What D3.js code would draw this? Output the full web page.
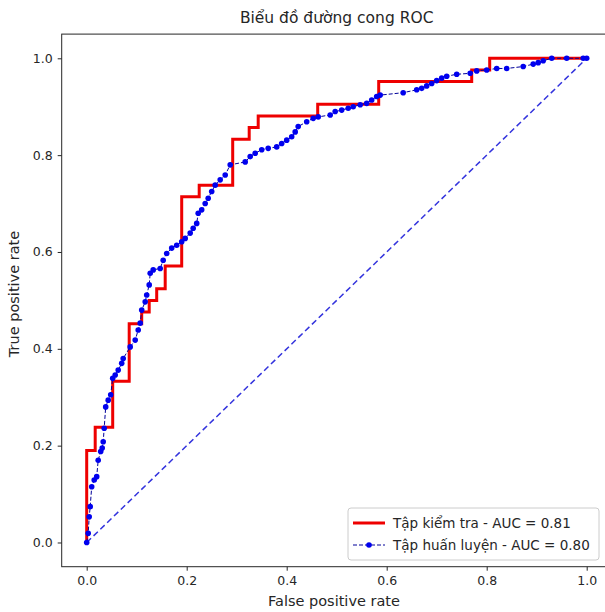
<!DOCTYPE html>
<html>
<head>
<meta charset="utf-8">
<script src="https://d3js.org/d3.v7.min.js"></script>
<style>
	body {
		margin: 0;
		overflow: hidden;
		background: #fff;
		font-family: "DejaVu Sans", sans-serif;
	}
	svg {
		display: block;
	}
	.tick text {
		font-size: 12.5px;
		fill: #262626;
	}
	.axis-label {
		font-size: 14.5px;
		text-anchor: middle;
		fill: #262626;
	}
	.title {
		font-size: 15.5px;
		text-anchor: middle;
		fill: #262626;
	}
	.legend-text {
		font-size: 13.5px;
		fill: #262626;
	}
</style>
</head>
<body>
<script>

// test set ROC (step corners)
var testFpr = [0, 0, 0.017, 0.017, 0.052, 0.052, 0.085, 0.085, 0.11, 0.11, 0.125, 0.125, 0.14, 0.14,
	0.157, 0.157, 0.19, 0.19, 0.225, 0.225, 0.292, 0.292, 0.325, 0.325, 0.343, 0.343,
	0.462, 0.462, 0.584, 0.584, 0.77, 0.77, 0.806, 0.806, 1];
var testTpr = [0, 0.190, 0.190, 0.238, 0.238, 0.333, 0.333, 0.452, 0.452, 0.476, 0.476, 0.500, 0.500, 0.524,
	0.524, 0.571, 0.571, 0.714, 0.714, 0.738, 0.738, 0.833, 0.833, 0.857, 0.857, 0.881,
	0.881, 0.905, 0.905, 0.952, 0.952, 0.976, 0.976, 1, 1];

// training set ROC
var trainFpr = [0, 0.003, 0.005, 0.007, 0.01, 0.015, 0.02, 0.023, 0.028, 0.031, 0.033, 0.035, 0.038, 0.043,
	0.048, 0.052, 0.057, 0.063, 0.07, 0.073, 0.087, 0.097, 0.103, 0.107, 0.11, 0.117, 0.12, 0.125,
	0.127, 0.133, 0.147, 0.153, 0.16, 0.17, 0.18, 0.19, 0.197, 0.207, 0.213, 0.22, 0.223, 0.23,
	0.237, 0.243, 0.25, 0.257, 0.267, 0.277, 0.287, 0.317, 0.327, 0.337, 0.35, 0.363, 0.38, 0.39,
	0.40, 0.41, 0.417, 0.423, 0.44, 0.453, 0.463, 0.487, 0.497, 0.51, 0.523, 0.533, 0.547, 0.56,
	0.57, 0.58, 0.587, 0.633, 0.66, 0.67, 0.68, 0.69, 0.70, 0.71, 0.72, 0.74, 0.767, 0.78, 0.80,
	0.82, 0.84, 0.873, 0.893, 0.903, 0.913, 0.93, 0.96, 0.993, 1];
var trainTpr = [0, 0.019, 0.053, 0.074, 0.115, 0.129, 0.136, 0.170, 0.188, 0.195, 0.208, 0.236, 0.280, 0.294,
	0.305, 0.339, 0.346, 0.356, 0.370, 0.380, 0.404, 0.418, 0.439, 0.453, 0.480, 0.497, 0.511, 0.532,
	0.556, 0.563, 0.566, 0.583, 0.597, 0.608, 0.614, 0.621, 0.628, 0.639, 0.649, 0.659, 0.680, 0.687,
	0.700, 0.711, 0.725, 0.738, 0.749, 0.759, 0.780, 0.786, 0.797, 0.804, 0.811, 0.814, 0.817, 0.824,
	0.831, 0.838, 0.848, 0.859, 0.869, 0.876, 0.879, 0.883, 0.890, 0.893, 0.897, 0.900, 0.904, 0.907,
	0.914, 0.921, 0.924, 0.929, 0.935, 0.938, 0.943, 0.948, 0.954, 0.959, 0.963, 0.967, 0.969, 0.974, 0.976,
	0.979, 0.979, 0.983, 0.988, 0.991, 0.995, 1.0, 1.0, 1.0, 1];

var chanceFpr = [0, 1];
var chanceTpr = [0, 1];

var xTicks = [0, 0.2, 0.4, 0.6, 0.8, 1.0];
var yTicks = [0, 0.2, 0.4, 0.6, 0.8, 1.0];

var legendLabels = ["Tập kiểm tra - AUC = 0.81", "Tập huấn luyện - AUC = 0.80"];

var W = 605, H = 612;
var margin = {top: 34.1, left: 61.7},
	width = 550,
	height = 532.6;

var svg = d3.select("body").append("svg")
	.attr("width", W).attr("height", H);

var g = svg.append("g")
	.attr("transform", "translate(" + margin.left + "," + margin.top + ")");

var x = d3.scaleLinear().domain([-0.05, 1.05]).range([0, width]);
var y = d3.scaleLinear().domain([-0.05, 1.05]).range([height, 0]);

var line = d3.line()
	.x(function(d) { return x(d[0]); })
	.y(function(d) { return y(d[1]); });

function zip(a, b) { return a.map(function(v, i) { return [v, b[i]]; }); }

var testPts = zip(testFpr, testTpr),
	trainPts = zip(trainFpr, trainTpr),
	chancePts = zip(chanceFpr, chanceTpr);

// axes
var xAxis = g.append("g")
	.attr("transform", "translate(0," + height + ")")
	.call(d3.axisBottom(x).tickValues(xTicks).tickFormat(d3.format(".1f")).tickSizeOuter(0).tickSize(4).tickPadding(5));
var yAxis = g.append("g")
	.call(d3.axisLeft(y).tickValues(yTicks).tickFormat(d3.format(".1f")).tickSizeOuter(0).tickSize(4).tickPadding(5));
[xAxis, yAxis].forEach(function(a) {
	a.select(".domain").remove();
	a.selectAll(".tick line").attr("stroke", "#262626");
	a.selectAll(".tick text").attr("font-family", "DejaVu Sans");
});

// frame
g.append("rect")
	.attr("width", width).attr("height", height)
	.attr("fill", "none").attr("stroke", "#262626").attr("stroke-width", 1);

var plot = g.append("g");

plot.append("path").datum(testPts)
	.attr("d", line)
	.attr("fill", "none")
	.attr("stroke", "#ee0000")
	.attr("stroke-width", 3);

plot.append("path").datum(chancePts)
	.attr("d", line)
	.attr("fill", "none")
	.attr("stroke", "#3333dd")
	.attr("stroke-width", 1.5)
	.attr("stroke-dasharray", "6,3.5");

plot.append("path").datum(trainPts)
	.attr("d", line)
	.attr("fill", "none")
	.attr("stroke", "#00009a")
	.attr("stroke-width", 1)
	.attr("stroke-dasharray", "4,2");

plot.selectAll(".dot").data(trainPts)
	.enter().append("circle")
	.attr("class", "dot")
	.attr("cx", function(d) { return x(d[0]); })
	.attr("cy", function(d) { return y(d[1]); })
	.attr("r", 2.8)
	.attr("fill", "#0000ee");

// title and labels
svg.append("text").attr("class", "title")
	.attr("x", margin.left + width / 2).attr("y", 23)
	.text("Biểu đồ đường cong ROC");

svg.append("text").attr("class", "axis-label")
	.attr("x", 334).attr("y", 606)
	.text("False positive rate");

svg.append("text").attr("class", "axis-label")
	.attr("transform", "translate(19," + 294 + ") rotate(-90)")
	.text("True positive rate");

// legend
var lg = svg.append("g").attr("transform", "translate(348,508)");
lg.append("rect")
	.attr("width", 251).attr("height", 52).attr("rx", 3)
	.attr("fill", "#fff").attr("fill-opacity", 0.85)
	.attr("stroke", "#cccccc").attr("stroke-width", 1);

lg.append("line")
	.attr("x1", 5).attr("x2", 37).attr("y1", 15).attr("y2", 15)
	.attr("stroke", "#ee0000").attr("stroke-width", 3);
lg.append("line")
	.attr("x1", 5).attr("x2", 37).attr("y1", 37).attr("y2", 37)
	.attr("stroke", "#00009a").attr("stroke-width", 1).attr("stroke-dasharray", "4,2");
lg.append("circle").attr("cx", 21).attr("cy", 37).attr("r", 2.8).attr("fill", "#0000ee");

lg.selectAll(".legend-text").data(legendLabels)
	.enter().append("text")
	.attr("class", "legend-text")
	.attr("x", 45)
	.attr("y", function(d, i) { return 19.5 + i * 22; })
	.text(function(d) { return d; });

</script>
</body>
</html>
